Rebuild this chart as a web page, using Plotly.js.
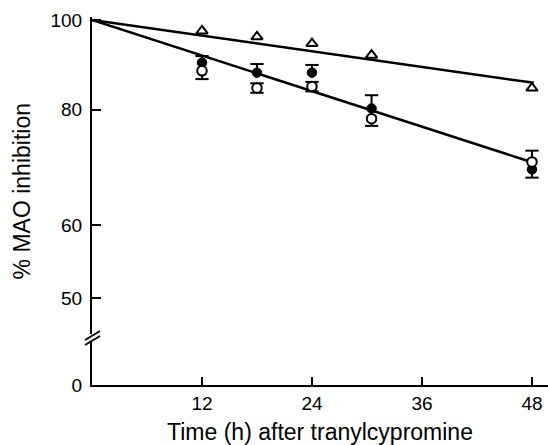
<!DOCTYPE html>
<html>
<head>
<meta charset="utf-8">
<script src="https://cdn.plot.ly/plotly-3.0.1.min.js"></script>
<style>
  html, body { margin: 0; padding: 0; background: #fff; }
  #chart { width: 548px; height: 445px; }
</style>
</head>
<body>
<div id="chart"></div>
<script>
// ---- data ----
var times = [12, 18, 24, 30.5, 48];               // h after tranylcypromine
var triangleVals = [97.3, 95.9, 94.3, 91.6, 84.4];  // open triangles
var filledVals = [89.9, 87.7, 87.7, 80.2, 68.9];    // filled circles
var filledSEup = [1.5, 1.9, 1.7, 2.7, 0];
var filledSEdown = [0, 0, 0, 0, 1.4];
var openVals = [88.1, 84.4, 84.7, 78.2, 70.2];      // open circles
var openSEup = [0, 1.0, 1.0, 0, 2.0];
var openSEdown = [1.8, 1.0, 1.0, 1.4, 0];
// regression lines
var upperFitX = [0, 48.2];
var upperFitY = [100, 85.5];
var lowerFitX = [0, 47.5];
var lowerFitY = [100, 70.4];
// y tick labels (axis is broken; "0" sits at the bottom of the log axis)
var yTickLabels = ['0', '50', '60', '80', '100'];
var yTickValues = [50, 60, 80, 100];
var xTickValues = [12, 24, 36, 48];

// ---- helpers building error-bar traces from the data ----
function errorTraces(x, y, up, down) {
  var sx = [], sy = [], cx = [], cy = [];
  for (var i = 0; i < x.length; i++) {
    if (up[i] > 0) {
      sx.push(x[i], x[i], null); sy.push(y[i], y[i] + up[i], null);
      cx.push(x[i]); cy.push(y[i] + up[i]);
    }
    if (down[i] > 0) {
      sx.push(x[i], x[i], null); sy.push(y[i], y[i] - down[i], null);
      cx.push(x[i]); cy.push(y[i] - down[i]);
    }
  }
  return [
    {x: sx, y: sy, mode: 'lines', line: {color: '#000', width: 2}, hoverinfo: 'skip', showlegend: false},
    {x: cx, y: cy, mode: 'markers', marker: {symbol: 'line-ew', size: 9.5, line: {color: '#000', width: 2}}, hoverinfo: 'skip', showlegend: false}
  ];
}

var yRange = [1.6048, 2.00325];
var zeroPos = Math.pow(10, yRange[0]);

var font = 'Liberation Sans, Arial, Helvetica, sans-serif';

var traces = [];
traces.push({x: upperFitX, y: upperFitY, mode: 'lines', line: {color: '#000', width: 2.5}, showlegend: false});
traces.push({x: lowerFitX, y: lowerFitY, mode: 'lines', line: {color: '#000', width: 2.5}, showlegend: false});
traces = traces.concat(errorTraces(times, filledVals, filledSEup, filledSEdown));
traces = traces.concat(errorTraces(times, openVals, openSEup, openSEdown));
traces.push({x: times, y: filledVals, mode: 'markers',
  marker: {symbol: 'circle', size: 9.5, color: '#000', line: {color: '#000', width: 1}}, showlegend: false});
traces.push({x: times, y: openVals, mode: 'markers',
  marker: {symbol: 'circle', size: 9.5, color: '#fff', line: {color: '#000', width: 2}}, showlegend: false});
traces.push({x: times, y: triangleVals, mode: 'markers',
  marker: {symbol: 'triangle-up', size: 10, color: '#fff', line: {color: '#000', width: 2}}, showlegend: false});

var breakY = 0.1277;
var layout = {
  width: 548, height: 445,
  margin: {l: 92, r: 0, t: 17, b: 60},
  paper_bgcolor: '#fff', plot_bgcolor: '#fff',
  font: {family: font, color: '#000', size: 18},
  showlegend: false,
  xaxis: {
    range: [0, 49.75], tickvals: xTickValues, ticktext: xTickValues.map(String),
    ticks: 'inside', ticklen: 8, tickwidth: 2, tickcolor: '#000',
    showline: true, linewidth: 2, linecolor: '#000',
    showgrid: false, zeroline: false,
    tickfont: {size: 19, family: font},
    title: {text: 'Time (h) after tranylcypromine', font: {size: 23, family: font}, standoff: 11},
    automargin: false, fixedrange: true
  },
  yaxis: {
    type: 'log', range: yRange,
    tickvals: [zeroPos].concat(yTickValues), ticktext: yTickLabels,
    ticks: 'inside', ticklen: 9, tickwidth: 2, tickcolor: '#000',
    showline: true, linewidth: 2, linecolor: '#000',
    showgrid: false, zeroline: false,
    tickfont: {size: 19, family: font},
    ticklabelstandoff: 4,
    automargin: false, fixedrange: true
  },
  annotations: [
    {text: '% MAO inhibition', textangle: -90, showarrow: false,
     xref: 'paper', yref: 'paper', x: -0.1535, y: 0.526,
     xanchor: 'center', yanchor: 'middle', font: {size: 23, family: font, color: '#000'}}
  ],
  shapes: [
    {type: 'line', xref: 'paper', yref: 'paper', xsizemode: 'pixel', ysizemode: 'pixel',
     xanchor: 0, yanchor: breakY, x0: 0, x1: 0, y0: -4, y1: 4, line: {color: '#fff', width: 4}},
    {type: 'line', xref: 'paper', yref: 'paper', xsizemode: 'pixel', ysizemode: 'pixel',
     xanchor: 0, yanchor: breakY, x0: -7, x1: 8, y0: -7, y1: 2, line: {color: '#000', width: 2}},
    {type: 'line', xref: 'paper', yref: 'paper', xsizemode: 'pixel', ysizemode: 'pixel',
     xanchor: 0, yanchor: breakY, x0: -7, x1: 8, y0: -2, y1: 7, line: {color: '#000', width: 2}}
  ]
};

Plotly.newPlot('chart', traces, layout, {displayModeBar: false, staticPlot: true});
</script>
</body>
</html>
